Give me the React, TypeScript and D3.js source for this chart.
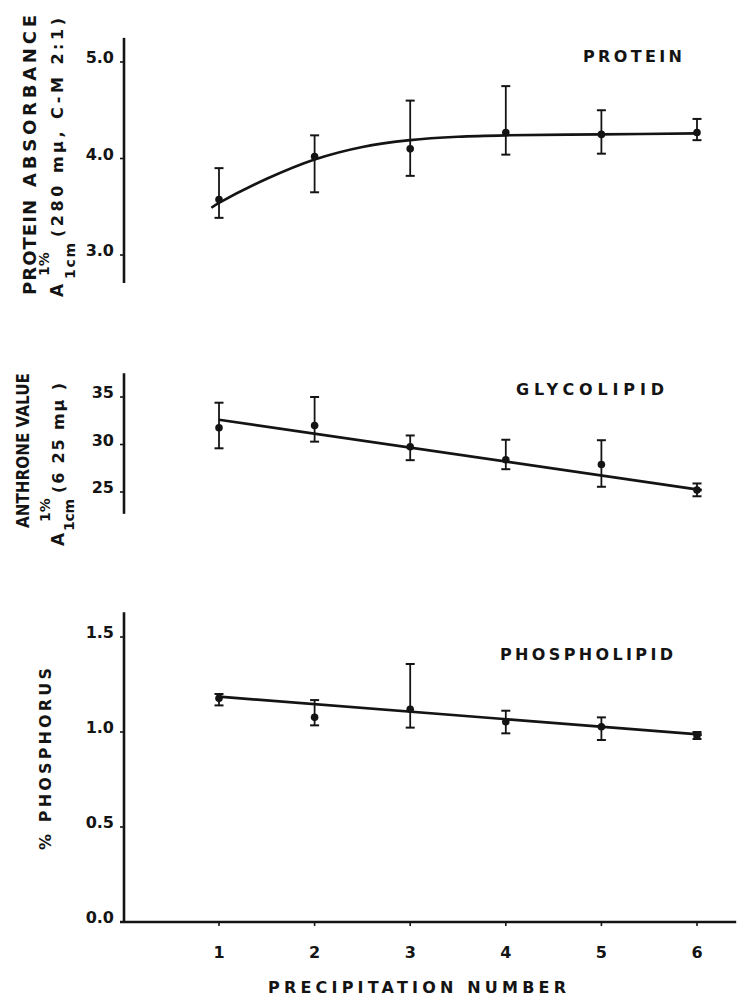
import React from "react";
import * as d3 from "d3";

// ---------- data ----------
const PRECIPITATION = [1, 2, 3, 4, 5, 6];
const X_TICKS = ["1", "2", "3", "4", "5", "6"];

const PROTEIN_MEAN = [3.575, 4.02, 4.1, 4.27, 4.25, 4.27];
const PROTEIN_HIGH = [3.9, 4.24, 4.6, 4.75, 4.5, 4.41];
const PROTEIN_LOW = [3.385, 3.65, 3.82, 4.04, 4.05, 4.19];
const PROTEIN_FIT_X = [0.92, 1, 1.5, 2, 2.5, 3, 3.5, 4, 5, 6];
const PROTEIN_FIT_Y = [3.49, 3.54, 3.79, 3.99, 4.12, 4.19, 4.225, 4.24, 4.25, 4.26];
const PROTEIN_TICKS = [3.0, 4.0, 5.0];
const PROTEIN_EXTENT = [2.71, 5.25];

const GLYCO_MEAN = [31.76, 32.0, 29.76, 28.4, 27.9, 25.2];
const GLYCO_HIGH = [34.4, 35.0, 30.95, 30.5, 30.45, 25.9];
const GLYCO_LOW = [29.6, 30.3, 28.35, 27.4, 25.55, 24.55];
const GLYCO_FIT_X = [1, 6.05];
const GLYCO_FIT_Y = [32.6, 25.2];
const GLYCO_TICKS = [25, 30, 35];
const GLYCO_EXTENT = [22.7, 37.5];

const PHOS_MEAN = [1.177, 1.077, 1.12, 1.054, 1.028, 0.98];
const PHOS_HIGH = [1.2, 1.168, 1.358, 1.112, 1.077, 1.0];
const PHOS_LOW = [1.14, 1.035, 1.023, 0.993, 0.958, 0.963];
const PHOS_FIT_X = [1, 6.05];
const PHOS_FIT_Y = [1.186, 0.986];
const PHOS_TICKS = [0.0, 0.5, 1.0, 1.5];
const PHOS_EXTENT = [0, 1.63];

// ---------- layout ----------
const W = 738;
const H = 998;
const AXIS_X = 124;
const INK = "#141414";
const FONT = "'DejaVu Sans', Verdana, sans-serif";
const TXT = { fill: INK, fontWeight: "bold" as const };

const x = d3.scaleLinear().domain([1, 6]).range([219, 697]);

const panels = [
  {
    name: "PROTEIN",
    labelX: 583, labelY: 62, labelLen: 99,
    y: d3.scaleLinear().domain([3, 5]).range([255, 62]),
    extent: PROTEIN_EXTENT,
    ticks: PROTEIN_TICKS,
    fmt: d3.format(".1f"),
    mean: PROTEIN_MEAN, hi: PROTEIN_HIGH, lo: PROTEIN_LOW,
    fitX: PROTEIN_FIT_X, fitY: PROTEIN_FIT_Y,
    curve: d3.curveCatmullRom,
  },
  {
    name: "GLYCOLIPID",
    labelX: 516, labelY: 395, labelLen: 148,
    y: d3.scaleLinear().domain([25, 35]).range([492, 397]),
    extent: GLYCO_EXTENT,
    ticks: GLYCO_TICKS,
    fmt: d3.format("d"),
    mean: GLYCO_MEAN, hi: GLYCO_HIGH, lo: GLYCO_LOW,
    fitX: GLYCO_FIT_X, fitY: GLYCO_FIT_Y,
    curve: d3.curveLinear,
  },
  {
    name: "PHOSPHOLIPID",
    labelX: 500, labelY: 660, labelLen: 173,
    y: d3.scaleLinear().domain([0, 1.5]).range([922, 637]),
    extent: PHOS_EXTENT,
    ticks: PHOS_TICKS,
    fmt: d3.format(".1f"),
    mean: PHOS_MEAN, hi: PHOS_HIGH, lo: PHOS_LOW,
    fitX: PHOS_FIT_X, fitY: PHOS_FIT_Y,
    curve: d3.curveLinear,
  },
];

function Panel({ p }: { p: any }) {
  const line = d3
    .line<number>()
    .x((d) => x(d))
    .y((_, i) => p.y(p.fitY[i]))
    .curve(p.curve);
  return (
    <g>
      {/* y axis */}
      <line
        x1={AXIS_X} x2={AXIS_X}
        y1={p.y(p.extent[1])} y2={p.y(p.extent[0])}
        stroke={INK} strokeWidth={2.6}
      />
      {p.ticks.map((t: number) => (
        <g key={t}>
          <line x1={AXIS_X - 4} x2={AXIS_X} y1={p.y(t)} y2={p.y(t)} stroke={INK} strokeWidth={1.6} />
          <text
            x={114} y={p.y(t) + 1}
            textAnchor="end" fontSize={16} {...TXT}
          >
            {p.fmt(t)}
          </text>
        </g>
      ))}
      {/* fit line */}
      <path d={line(p.fitX) || ""} fill="none" stroke={INK} strokeWidth={2.6} />
      {/* error bars */}
      {PRECIPITATION.map((v, i) => (
        <g key={v}>
          <line x1={x(v)} x2={x(v)} y1={p.y(p.hi[i])} y2={p.y(p.lo[i])} stroke={INK} strokeWidth={1.8} />
          <line x1={x(v) - 4.5} x2={x(v) + 4.5} y1={p.y(p.hi[i])} y2={p.y(p.hi[i])} stroke={INK} strokeWidth={2} />
          <line x1={x(v) - 4.5} x2={x(v) + 4.5} y1={p.y(p.lo[i])} y2={p.y(p.lo[i])} stroke={INK} strokeWidth={2} />
          <circle cx={x(v)} cy={p.y(p.mean[i])} r={3.8} fill={INK} />
        </g>
      ))}
      {/* panel label */}
      <text
        x={p.labelX} y={p.labelY} textLength={p.labelLen} lengthAdjust="spacing"
        fontSize={16} {...TXT}
      >
        {p.name}
      </text>
    </g>
  );
}

export default function App() {
  const bottomY = panels[2].y(0);
  return (
    <svg
      width={W} height={H}
      style={{ position: "absolute", left: 0, top: 0, background: "#fff" }}
      fontFamily={FONT}
    >
      <rect width={W} height={H} fill="#fff" />
      {panels.map((p) => (
        <Panel key={p.name} p={p} />
      ))}

      {/* x axis */}
      <line x1={AXIS_X - 4} x2={x(6.41)} y1={bottomY} y2={bottomY} stroke={INK} strokeWidth={2.4} />
      {PRECIPITATION.map((v, i) => (
        <g key={v}>
          <line x1={x(v)} x2={x(v)} y1={bottomY} y2={bottomY + 4} stroke={INK} strokeWidth={1.6} />
          <text x={x(v)} y={958} textAnchor="middle" fontSize={16} {...TXT}>
            {X_TICKS[i]}
          </text>
        </g>
      ))}
      <text x={268} y={993} textLength={298} lengthAdjust="spacing" fontSize={16} {...TXT}>
        PRECIPITATION NUMBER
      </text>

      {/* top y title */}
      <g transform="translate(36,297) rotate(-90)" {...TXT}>
        <text x={2} y={0} fontSize={18} textLength={95} lengthAdjust="spacing">PROTEIN</text>
        <text x={110} y={0} fontSize={18} textLength={172} lengthAdjust="spacing">ABSORBANCE</text>
      </g>
      <g transform="translate(63,297) rotate(-90)" {...TXT}>
        <text x={0} y={0} fontSize={17}>A</text>
        <text x={21} y={-14} fontSize={14}>1%</text>
        <text x={18} y={12} fontSize={14} textLength={36} lengthAdjust="spacing">1cm</text>
        <text x={60} y={0} fontSize={16} textLength={219} lengthAdjust="spacing">(280 mμ, C-M 2:1)</text>
      </g>

      {/* middle y title */}
      <g transform="translate(29,528) rotate(-90)" {...TXT}>
        <text x={0} y={0} fontSize={18} textLength={155} lengthAdjust="spacingAndGlyphs">ANTHRONE VALUE</text>
      </g>
      <g transform="translate(64,546) rotate(-90)" {...TXT}>
        <text x={0} y={0} fontSize={17}>A</text>
        <text x={24} y={-14} fontSize={14}>1%</text>
        <text x={15} y={10} fontSize={14} textLength={32} lengthAdjust="spacing">1cm</text>
        <text x={53} y={0} fontSize={16} textLength={110} lengthAdjust="spacing">(6 25 mμ )</text>
      </g>

      {/* bottom y title */}
      <g transform="translate(51,850) rotate(-90)" {...TXT}>
        <text x={0} y={0} fontSize={16} textLength={182} lengthAdjust="spacing">% PHOSPHORUS</text>
      </g>
    </svg>
  );
}
